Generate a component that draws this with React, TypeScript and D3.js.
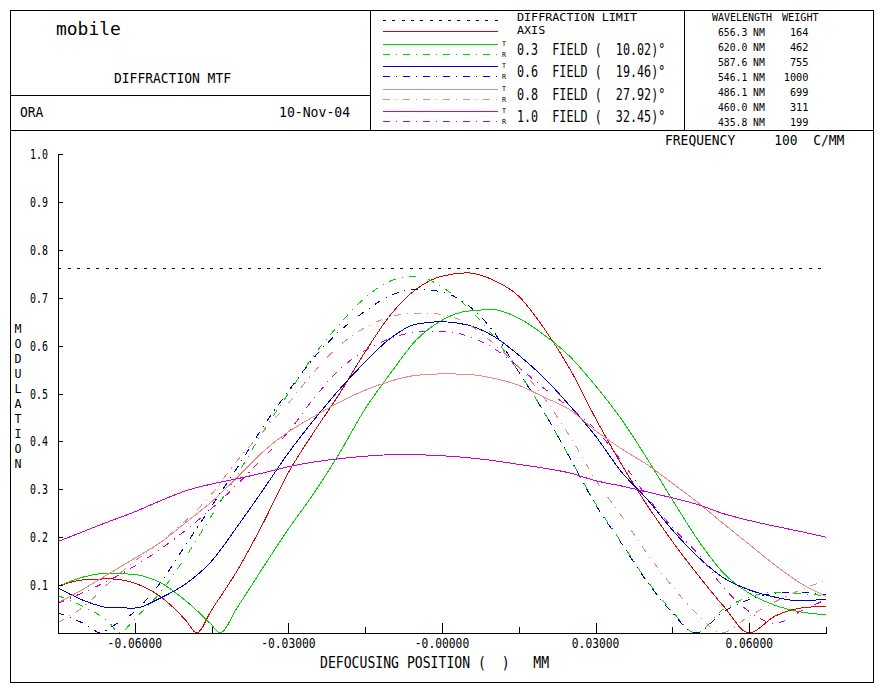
import React from "react";
import * as d3 from "d3";

// ---- data ----
const majorTicks = [-0.06, -0.03, 0, 0.03, 0.06];
const minorTicks = [-0.045, -0.015, 0.015, 0.045, 0.075];
const xTickLabels = ["-0.06000", "-0.03000", "-0.00000", "0.03000", "0.06000"];
const yTicks = [0.1, 0.2, 0.3, 0.4, 0.5, 0.6, 0.7, 0.8, 0.9, 1.0];
const yTickLabels = ["0.1", "0.2", "0.3", "0.4", "0.5", "0.6", "0.7", "0.8", "0.9", "1.0"];
const diffractionLimit = 0.762;

const fieldFractions = ["0.3", "0.6", "0.8", "1.0"];
const fieldAngles = ["10.02", "19.46", "27.92", "32.45"];
const wavelengths = ["656.3", "620.0", "587.6", "546.1", "486.1", "460.0", "435.8"];
const weights = ["164", "462", "755", "1000", "699", "311", "199"];

type Pt = [number, number];

const axisCurve: Pt[] = [
  [-0.075, 0.098], [-0.07, 0.111], [-0.065, 0.113], [-0.06, 0.104], [-0.055, 0.076],
  [-0.05, 0.026], [-0.0479, 0], [-0.045, 0.048], [-0.04, 0.13], [-0.035, 0.228],
  [-0.03, 0.335], [-0.025, 0.42], [-0.02, 0.5], [-0.015, 0.587], [-0.01, 0.665],
  [-0.005, 0.718], [0, 0.745], [0.005, 0.752], [0.01, 0.737], [0.015, 0.703],
  [0.02, 0.635], [0.025, 0.551], [0.03, 0.448], [0.035, 0.353], [0.04, 0.268],
  [0.045, 0.191], [0.05, 0.121], [0.055, 0.056], [0.06, 0], [0.065, 0.035],
  [0.07, 0.052], [0.075, 0.056],
];

const f03Tan: Pt[] = [
  [-0.075, 0.097], [-0.07, 0.117], [-0.065, 0.125], [-0.06, 0.122], [-0.055, 0.105],
  [-0.05, 0.067], [-0.045, 0.017], [-0.0434, 0], [-0.04, 0.053], [-0.035, 0.136],
  [-0.03, 0.217], [-0.025, 0.292], [-0.02, 0.376], [-0.015, 0.468], [-0.01, 0.543],
  [-0.005, 0.612], [0, 0.653], [0.005, 0.672], [0.01, 0.675], [0.015, 0.657],
  [0.02, 0.622], [0.025, 0.577], [0.03, 0.516], [0.035, 0.447], [0.04, 0.365],
  [0.045, 0.278], [0.05, 0.194], [0.055, 0.125], [0.06, 0.083], [0.065, 0.058],
  [0.07, 0.044], [0.075, 0.038],
];

const f03Rad: Pt[] = [
  [-0.075, 0.078], [-0.07, 0.055], [-0.065, 0.022], [-0.063, 0], [-0.06, 0.03],
  [-0.055, 0.085], [-0.05, 0.16], [-0.045, 0.245], [-0.04, 0.33], [-0.035, 0.42],
  [-0.03, 0.5], [-0.025, 0.58], [-0.02, 0.645], [-0.015, 0.7], [-0.01, 0.735],
  [-0.005, 0.745], [0, 0.722], [0.005, 0.68], [0.01, 0.62], [0.015, 0.545],
  [0.02, 0.46], [0.025, 0.365], [0.03, 0.27], [0.035, 0.19], [0.04, 0.11],
  [0.045, 0.045], [0.0495, 0], [0.055, 0.05], [0.06, 0.075], [0.065, 0.085],
  [0.07, 0.082], [0.075, 0.078],
];

const f06Tan: Pt[] = [
  [-0.075, 0.094], [-0.07, 0.068], [-0.065, 0.053], [-0.06, 0.052], [-0.055, 0.073],
  [-0.05, 0.103], [-0.045, 0.15], [-0.04, 0.222], [-0.035, 0.298], [-0.03, 0.376],
  [-0.025, 0.445], [-0.02, 0.509], [-0.015, 0.566], [-0.01, 0.616], [-0.005, 0.645],
  [0, 0.65], [0.005, 0.643], [0.01, 0.62], [0.015, 0.58], [0.02, 0.532],
  [0.025, 0.474], [0.03, 0.411], [0.035, 0.337], [0.04, 0.28], [0.045, 0.215],
  [0.05, 0.159], [0.055, 0.115], [0.06, 0.09], [0.065, 0.075], [0.07, 0.067],
  [0.075, 0.071],
];

const f06Rad: Pt[] = [
  [-0.075, 0.042], [-0.07, 0.02], [-0.0665, 0], [-0.065, 0.01], [-0.06, 0.045],
  [-0.055, 0.105], [-0.05, 0.185], [-0.045, 0.265], [-0.04, 0.345], [-0.035, 0.43],
  [-0.03, 0.505], [-0.025, 0.575], [-0.02, 0.63], [-0.015, 0.672], [-0.01, 0.705],
  [-0.005, 0.718], [0, 0.712], [0.005, 0.685], [0.01, 0.63], [0.015, 0.545],
  [0.02, 0.46], [0.025, 0.365], [0.03, 0.268], [0.035, 0.188], [0.04, 0.108],
  [0.045, 0.042], [0.0495, 0], [0.055, 0.045], [0.06, 0.07], [0.065, 0.083],
  [0.07, 0.085], [0.075, 0.08],
];

const f08Tan: Pt[] = [
  [-0.075, 0.063], [-0.07, 0.092], [-0.065, 0.124], [-0.06, 0.156], [-0.055, 0.189],
  [-0.05, 0.231], [-0.045, 0.274], [-0.04, 0.325], [-0.035, 0.378], [-0.03, 0.42],
  [-0.025, 0.452], [-0.02, 0.482], [-0.015, 0.507], [-0.01, 0.526], [-0.005, 0.538],
  [0, 0.541], [0.005, 0.54], [0.01, 0.532], [0.015, 0.517], [0.02, 0.492],
  [0.025, 0.466], [0.03, 0.422], [0.035, 0.385], [0.04, 0.352], [0.045, 0.313],
  [0.05, 0.272], [0.055, 0.228], [0.06, 0.185], [0.065, 0.142], [0.07, 0.104],
  [0.075, 0.076],
];

const f08Rad: Pt[] = [
  [-0.075, 0.022], [-0.07, 0.055], [-0.065, 0.105], [-0.06, 0.15], [-0.055, 0.19],
  [-0.05, 0.235], [-0.045, 0.29], [-0.04, 0.36], [-0.035, 0.42], [-0.03, 0.48],
  [-0.025, 0.545], [-0.02, 0.6], [-0.015, 0.638], [-0.01, 0.66], [-0.005, 0.668],
  [0, 0.665], [0.005, 0.645], [0.01, 0.605], [0.015, 0.555], [0.02, 0.49],
  [0.025, 0.41], [0.03, 0.32], [0.035, 0.245], [0.04, 0.167], [0.045, 0.097],
  [0.05, 0.038], [0.0545, 0], [0.06, 0.035], [0.065, 0.065], [0.07, 0.09],
  [0.075, 0.11],
];

const f10Tan: Pt[] = [
  [-0.075, 0.191], [-0.07, 0.212], [-0.065, 0.233], [-0.06, 0.253], [-0.055, 0.276],
  [-0.05, 0.297], [-0.045, 0.311], [-0.04, 0.322], [-0.035, 0.334], [-0.03, 0.347],
  [-0.025, 0.357], [-0.02, 0.364], [-0.015, 0.369], [-0.01, 0.372], [-0.005, 0.372],
  [0, 0.37], [0.005, 0.366], [0.01, 0.36], [0.015, 0.352], [0.02, 0.344],
  [0.025, 0.334], [0.03, 0.318], [0.035, 0.307], [0.04, 0.295], [0.045, 0.282],
  [0.05, 0.268], [0.055, 0.249], [0.06, 0.235], [0.065, 0.223], [0.07, 0.212],
  [0.075, 0.2],
];

const f10Rad: Pt[] = [
  [-0.075, 0.062], [-0.07, 0.085], [-0.065, 0.11], [-0.06, 0.14], [-0.055, 0.175],
  [-0.05, 0.215], [-0.045, 0.26], [-0.04, 0.31], [-0.035, 0.365], [-0.03, 0.42],
  [-0.025, 0.49], [-0.02, 0.55], [-0.015, 0.59], [-0.01, 0.615], [-0.005, 0.628],
  [0, 0.63], [0.005, 0.62], [0.01, 0.595], [0.015, 0.555], [0.02, 0.51],
  [0.025, 0.47], [0.03, 0.425], [0.035, 0.36], [0.04, 0.285], [0.045, 0.22],
  [0.05, 0.165], [0.055, 0.095], [0.06, 0.045], [0.065, 0.02], [0.07, 0.045],
  [0.075, 0.07],
];

const RED = "#dc0000";
const GREEN = "#00d200";
const BLUE = "#0000c8";
const PINK = "#f08888";
const MAGENTA = "#d000d0";
const DASHDOT = "7,6,1,6";

const fieldColors = [GREEN, BLUE, PINK, MAGENTA];
const fieldTan = [f03Tan, f06Tan, f08Tan, f10Tan];
const fieldRad = [f03Rad, f06Rad, f08Rad, f10Rad];

const FONT = "'DejaVu Sans Mono', monospace";

const Txt = ({ x, y, s, cw, size, anchor = "start" }: any) => (
  <text
    x={x}
    y={y}
    fontFamily={FONT}
    fontSize={size}
    textAnchor={anchor}
    textLength={s.length * cw}
    lengthAdjust="spacingAndGlyphs"
    style={{ whiteSpace: "pre" }}
    fill="#000"
  >
    {s}
  </text>
);

export default function App() {
  const W = 883;
  const H = 691;
  const x = d3.scaleLinear().domain([-0.075, 0.075]).range([58, 826]);
  const y = d3.scaleLinear().domain([0, 1]).range([633, 154]);
  const line = d3
    .line<Pt>()
    .x((d) => x(d[0]))
    .y((d) => y(d[1]))
    .curve(d3.curveMonotoneX);

  const curves = [
    { data: axisCurve, color: RED, dash: undefined as string | undefined },
    ...fieldColors.flatMap((c, i) => [
      { data: fieldRad[i], color: c, dash: DASHDOT },
      { data: fieldTan[i], color: c, dash: undefined },
    ]),
  ];

  // legend rows
  const legX0 = 383;
  const legX1 = 498;
  const pairY = (i: number) => 44 + i * 22.4;

  return (
    <svg
      width={W}
      height={H}
      style={{ position: "absolute", left: 0, top: 0, background: "#fff" }}
    >
      <rect x={0} y={0} width={W} height={H} fill="#fff" />
      {/* frame */}
      <g stroke="#000" strokeWidth={1} fill="none" shapeRendering="crispEdges">
        <rect x={10.5} y={10.5} width={863} height={672} />
        <line x1={10} x2={874} y1={130.5} y2={130.5} />
        <line x1={10} x2={370} y1={95.5} y2={95.5} />
        <line x1={370.5} x2={370.5} y1={10} y2={130} />
        <line x1={684.5} x2={684.5} y1={10} y2={130} />
      </g>

      {/* title block */}
      <Txt x={56} y={35} s="mobile" cw={10.8} size={17} />
      <Txt x={114} y={83} s="DIFFRACTION MTF" cw={7.8} size={14} />
      <Txt x={20} y={117} s="ORA" cw={7.8} size={14} />
      <Txt x={279} y={117} s="10-Nov-04" cw={7.9} size={14} />

      {/* legend */}
      <line
        x1={legX0}
        x2={legX1}
        y1={20.5}
        y2={20.5}
        stroke="#000"
        strokeDasharray="3,6.3"
        shapeRendering="crispEdges"
      />
      <line x1={legX0} x2={legX1} y1={31.5} y2={31.5} stroke={RED} shapeRendering="crispEdges" />
      <Txt x={517} y={21} s="DIFFRACTION LIMIT" cw={7.06} size={10.5} />
      <Txt x={517} y={33.5} s="AXIS" cw={7.06} size={10.5} />
      {fieldFractions.map((f, i) => {
        const ys = Math.round(pairY(i)) + 0.5;
        const yr = ys + 10;
        return (
          <g key={f}>
            <line x1={legX0} x2={legX1} y1={ys} y2={ys} stroke={fieldColors[i]} shapeRendering="crispEdges" />
            <line
              x1={legX0}
              x2={legX1}
              y1={yr}
              y2={yr}
              stroke={fieldColors[i]}
              strokeDasharray={DASHDOT}
              shapeRendering="crispEdges"
            />
            <Txt x={502} y={ys + 1.5} s="T" cw={4} size={7} />
            <Txt x={502} y={yr + 2} s="R" cw={4} size={7} />
            <Txt x={517} y={yr} s={`${f}  FIELD (  ${fieldAngles[i]})°`} cw={7.06} size={15} />
          </g>
        );
      })}

      {/* wavelength table */}
      <Txt x={712} y={21} s="WAVELENGTH" cw={6} size={10.5} />
      <Txt x={782} y={21} s="WEIGHT" cw={6.1} size={10.5} />
      {wavelengths.map((w, i) => (
        <g key={w}>
          <Txt x={718} y={36 + i * 15} s={`${w} NM`} cw={5.85} size={11} />
          <Txt x={808.5} y={36 + i * 15} s={weights[i]} cw={6.2} size={11} anchor="end" />
        </g>
      ))}

      <Txt x={665} y={145} s="FREQUENCY     100  C/MM" cw={7.8} size={14} />

      {/* diffraction limit */}
      <line
        x1={x(-0.075)}
        x2={x(0.075)}
        y1={Math.round(y(diffractionLimit)) + 0.5}
        y2={Math.round(y(diffractionLimit)) + 0.5}
        stroke="#000"
        strokeDasharray="3,6.5"
        shapeRendering="crispEdges"
      />

      {/* curves */}
      <g fill="none" strokeWidth={1} shapeRendering="crispEdges">
        {curves.map((c, i) => (
          <path key={i} d={line(c.data) || ""} stroke={c.color} strokeDasharray={c.dash} />
        ))}
      </g>

      {/* axes */}
      <g stroke="#000" strokeWidth={1} shapeRendering="crispEdges">
        <line x1={x(-0.075) + 0.5} x2={x(-0.075) + 0.5} y1={y(1)} y2={y(0) + 1} />
        <line x1={x(-0.075)} x2={x(0.075) + 1} y1={y(0) + 0.5} y2={y(0) + 0.5} />
        {yTicks.map((t) => (
          <line key={t} x1={x(-0.075)} x2={x(-0.075) + 5} y1={Math.round(y(t)) + 0.5} y2={Math.round(y(t)) + 0.5} />
        ))}
        {majorTicks.map((t) => (
          <line key={t} x1={Math.round(x(t)) + 0.5} x2={Math.round(x(t)) + 0.5} y1={y(0)} y2={y(0) - 10} />
        ))}
        {minorTicks.map((t) => (
          <line key={t} x1={Math.round(x(t)) + 0.5} x2={Math.round(x(t)) + 0.5} y1={y(0)} y2={y(0) - 6} />
        ))}
      </g>
      {yTicks.map((t, i) => (
        <Txt key={t} x={48} y={y(t) + 5} s={yTickLabels[i]} cw={6} size={13.5} anchor="end" />
      ))}
      {majorTicks.map((t, i) => (
        <Txt key={t} x={x(t)} y={648} s={xTickLabels[i]} cw={6.8} size={13.5} anchor="middle" />
      ))}
      <Txt x={320} y={668} s="DEFOCUSING POSITION (  )   MM" cw={7.9} size={15.5} />
      {"MODULATION".split("").map((ch, i) => (
        <Txt key={i} x={18} y={333 + i * 15} s={ch} cw={7} size={13} anchor="middle" />
      ))}
    </svg>
  );
}
